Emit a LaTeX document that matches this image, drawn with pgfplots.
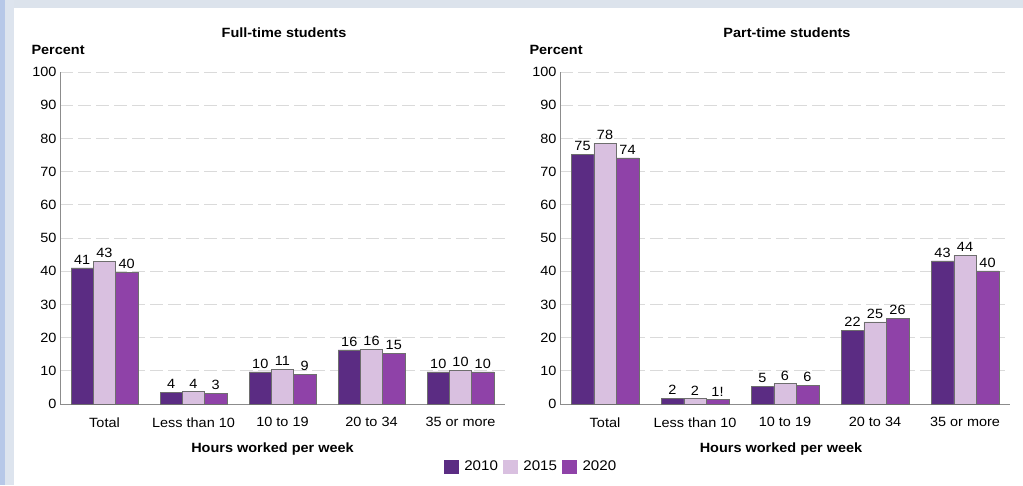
\documentclass[border=0pt]{standalone}
\usepackage{pgfplots}
\pgfplotsset{compat=1.18}
\usepackage{fontspec}
\setmainfont{Liberation Sans}[FakeStretch=1.08]
\newcommand{\fs}{\fontsize{13.4pt}{15pt}\selectfont}
\newcommand{\fl}{\fontsize{14pt}{16pt}\selectfont}

\definecolor{c2010}{HTML}{5B2C83}
\definecolor{c2015}{HTML}{D9C0E0}
\definecolor{c2020}{HTML}{8F42A8}
\definecolor{gridc}{HTML}{DADADA}
\definecolor{axc}{HTML}{8C8C8C}
\definecolor{edgec}{HTML}{6E6E6E}
\definecolor{topband}{HTML}{DCE3EC}
\definecolor{leftband}{HTML}{DDE4EE}
\definecolor{leftblue}{HTML}{B7C8E8}

\pgfplotsset{
  hourspanel/.style={
    scale only axis,
    height=332pt,
    anchor=south west,
    xmin=-0.5, xmax=4.5,
    ymin=0, ymax=100,
    ybar, bar width=0.25,
    axis lines=left,
    axis line style={-, draw=axc, line width=1pt},
    xtick={0,...,4},
    xticklabels={Total, Less than 10, 10 to 19, 20 to 34, 35 or more},
    ytick={0,10,...,100},
    major tick length=0pt,
    tick align=inside,
    ymajorgrids,
    grid style={draw=gridc, line width=0.8pt, dash pattern=on 13pt off 5pt},
    tick label style={font=\fs, text=black},
    /pgf/number format/assume math mode=true,
    xticklabel style={yshift=-10pt},
    clip=false,
    nodes near coords,
    point meta=explicit symbolic,
    nodes near coords style={font=\fs, text=black},
    every axis plot/.append style={draw=edgec, line width=0.5pt},
    legend image code/.code={\fill[##1, draw=none] (0pt,-7pt) rectangle (15pt,7pt); \path (0pt,0pt) (18pt,0pt);},
  },
  y2010/.style={fill=c2010, bar shift=-0.25},
  y2015/.style={fill=c2015, bar shift=0},
  y2020/.style={fill=c2020, bar shift=0.25},
}

\begin{document}
\begin{tikzpicture}
\useasboundingbox (0,0) rectangle (1023pt,485pt);
\fill[white] (0,0) rectangle (1023pt,485pt);
\fill[topband] (0,477pt) rectangle (1023pt,485pt);
\fill[leftband] (0,0) rectangle (14pt,485pt);
\fill[leftblue] (0,0) rectangle (5pt,485pt);

% full-time students
\begin{axis}[hourspanel, at={(60pt,81pt)}, width=445pt,
  legend style={at={(1.0584,-0.1883)}, anchor=center, draw=none, fill=none,
    font=\fl, legend columns=3,
    /tikz/every even column/.append style={column sep=3pt}}]
\addplot[y2010] coordinates {(0,41.0)[41] (1,3.5)[4] (2,9.7)[10] (3,16.3)[16] (4,9.7)[10]};
\addlegendentry{2010}
\addplot[y2015] coordinates {(0,42.9)[43] (1,3.7)[4] (2,10.5)[11] (3,16.4)[16] (4,10.1)[10]};
\addlegendentry{2015}
\addplot[y2020] coordinates {(0,39.7)[40] (1,3.3)[3] (2,9.0)[9] (3,15.3)[15] (4,9.7)[10]};
\addlegendentry{2020}
\end{axis}

% part-time students
\begin{axis}[hourspanel, at={(560pt,81pt)}, width=450pt]
\addplot[y2010] coordinates {(0,75.1)[75] (1,1.7)[2] (2,5.3)[5] (3,22.2)[22] (4,43.1)[43]};
\addplot[y2015] coordinates {(0,78.6)[78] (1,1.6)[2] (2,6.1)[6] (3,24.7)[25] (4,44.8)[44]};
\addplot[y2020] coordinates {(0,74.1)[74] (1,1.3)[1!] (2,5.7)[6] (3,25.7)[26] (4,40.1)[40]};
\end{axis}

\node[font=\fs\bfseries] at (284pt,452pt) {Full-time students};
\node[font=\fs\bfseries] at (787pt,452pt) {Part-time students};
\node[font=\fs\bfseries, anchor=west] at (28pt,435pt) {Percent};
\node[font=\fs\bfseries, anchor=west] at (526pt,435pt) {Percent};
\node[font=\fs\bfseries] at (272.5pt,36pt) {Hours worked per week};
\node[font=\fs\bfseries] at (781pt,36pt) {Hours worked per week};
\end{tikzpicture}
\end{document}
